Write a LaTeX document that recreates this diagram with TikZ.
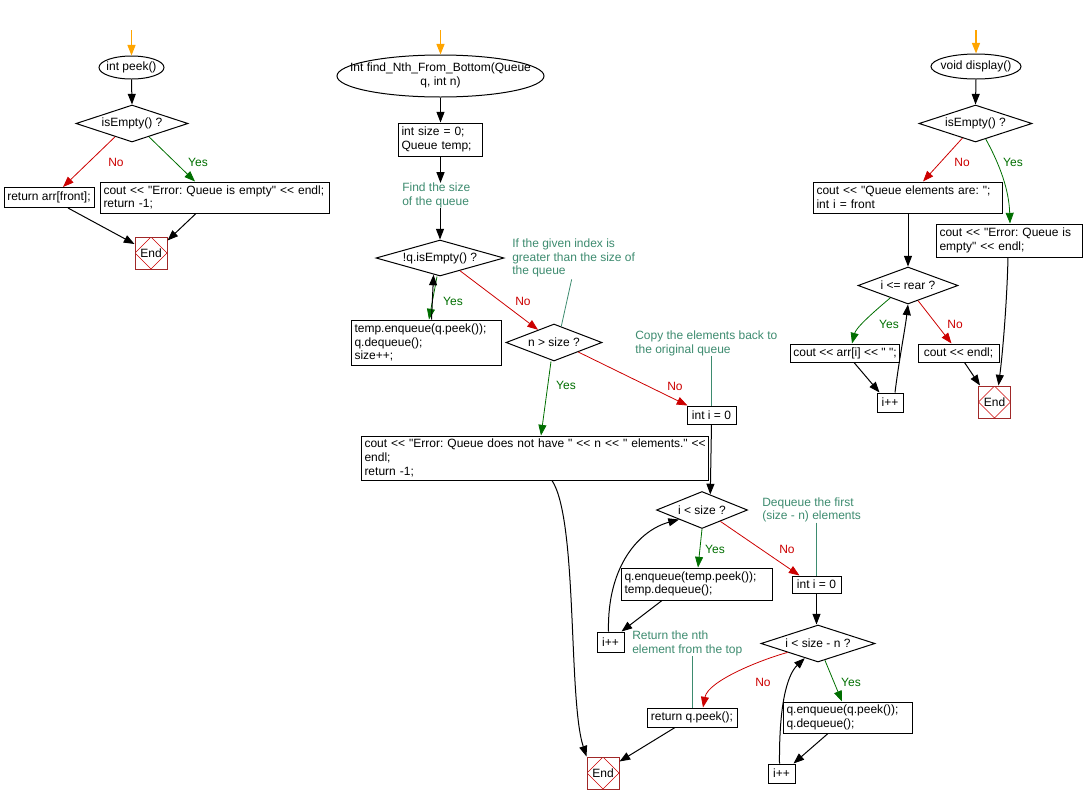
\documentclass[tikz,border=0pt]{standalone}
\usepackage{fontspec}
\setmainfont{Liberation Sans}[Ligatures=TeXOff]
\usetikzlibrary{shapes.geometric,arrows.meta,calc}
\definecolor{cmt}{RGB}{61,139,111}
\definecolor{nored}{RGB}{204,0,0}
\definecolor{yesgreen}{RGB}{0,110,0}
\definecolor{endred}{RGB}{160,40,40}
\definecolor{startor}{RGB}{255,165,0}
\newcommand{\zerow}[1]{\makebox[0pt][c]{#1}}
\frenchspacing
\tikzset{
  every node/.style={font=\fontsize{9}{10.2}\selectfont\frenchspacing},
  wh/.style args={#1/#2}{minimum width=#1*0.75pt, minimum height=#2*0.75pt},
  tw/.code={\pgfmathsetlengthmacro\mytw{(#1-5)*0.75pt}\edef\mynext{\noexpand\tikzset{text width=\mytw}}\mynext},
  sbox/.style={draw, rectangle, line width=0.75pt, inner xsep=2.25pt, inner ysep=0pt, align=center},
  mbox/.style={draw, rectangle, line width=0.75pt, inner xsep=2pt, inner ysep=0pt, align=left},
  startnode/.style={draw, ellipse, line width=0.75pt, inner sep=0pt},
  decision/.style={draw, diamond, line width=0.75pt, inner sep=0pt, aspect=3},
  endnode/.style={draw=endred, rectangle, line width=0.75pt, inner sep=0pt,
    minimum width=24pt, minimum height=24pt,
    path picture={\draw[nored, line width=0.45pt] (path picture bounding box.north) -- (path picture bounding box.east) -- (path picture bounding box.south) -- (path picture bounding box.west) -- cycle;}},
  comment/.style={text=cmt, align=left, inner sep=0pt},
  ylab/.style={text=yesgreen, inner sep=0pt},
  nlab/.style={text=nored, inner sep=0pt},
  tip/.style={-{Triangle[length=8pt,width=6pt]}},
  flow/.style={draw=black, line width=0.75pt, tip},
  yesflow/.style={draw=yesgreen, line width=0.6pt, tip},
  noflow/.style={draw=nored, line width=0.6pt, tip},
  startflow/.style={draw=startor, line width=1.2pt, -{Triangle[length=8pt,width=6pt]}},
  cline/.style={draw=cmt, line width=0.6pt},
}
\begin{document}
\begin{tikzpicture}[x=0.75pt,y=-0.75pt]
\useasboundingbox (0,0) rectangle (1083,804);

% ---------- peek ----------
\coordinate (o1) at (131.5,30);
\node[startnode, wh=65/23] (S1) at (131.5,67.5) {\zerow{int peek()}};
\node[decision, wh=112/37] (D1) at (132,123.5) {\zerow{isEmpty() ?}};
\node[sbox, wh=90/20] (retarr) at (49,197.5) {return arr[front];};
\node[mbox, wh=228/31, tw=228] (err1) at (215,197.5) {\mbox{cout << "Error: Queue is empty" << endl;}\\\mbox{return -1;}};
\node[endnode] (E1) at (151,253) {End};
\node[nlab] (l1) at (116,162) {No};
\node[ylab] (l2) at (198,162) {Yes};

\draw[startflow] (o1) -- (S1.north);
\draw[flow] (S1.south) -- (D1.north);
\draw[noflow] ($(D1.south)!0.3!(D1.west)$) -- ($(retarr.north)+(14,0)$);
\draw[yesflow] ($(D1.south)!0.3!(D1.east)$) -- ($(err1.north)+(-20,0)$);
\draw[flow] ($(retarr.south)+(19,0)$) -- ($(E1.west)+(0,-9)$);
\draw[flow] ($(err1.south)+(-19,0)$) -- ($(E1.north east)+(0,4)$);

% ---------- find_Nth_From_Bottom ----------
\coordinate (o2) at (440.5,30);
\node[startnode, wh=207/42] (S2) at (440.5,76) {\zerow{\begin{tabular}{@{}c@{}}Int find\_Nth\_From\_Bottom(Queue\\q, int n)\end{tabular}}};
\node[mbox, wh=83/33, tw=83] (initsz) at (440.5,139.5) {\mbox{int size = 0;}\\\mbox{Queue temp;}};
\node[comment, anchor=west] (C1) at (402,195.5) {Find the size\\of the queue};
\node[decision, wh=128/36] (D2) at (440,258) {\zerow{!q.isEmpty() ?}};
\node[mbox, wh=149/45, tw=149] (tempenq) at (426.5,342.5) {\mbox{temp.enqueue(q.peek());}\\\mbox{q.dequeue();}\\\mbox{size++;}};
\node[comment, anchor=west] (C2) at (512,258) {If the given index is\\greater than the size of\\the queue};
\node[decision, wh=96/37] (D3) at (554,342.5) {\zerow{n > size ?}};
\node[comment, anchor=west] (C3) at (635,343.5) {Copy the elements back to\\the original queue};
\node[sbox, wh=49/18] (inti1) at (711.5,415) {int i = 0};
\node[mbox, wh=346/44, tw=346] (err2) at (535,458) {\mbox{cout << "Error: Queue does not have " << n << " elements." <<}\\\mbox{endl;}\\\mbox{return -1;}};
\node[decision, wh=91/37] (D4) at (702,510) {\zerow{i < size ?}};
\node[comment, anchor=west] (C4) at (762,510) {Dequeue the first\\(size - n) elements};
\node[mbox, wh=150/32, tw=150] (qenqt) at (697,584) {\mbox{q.enqueue(temp.peek());}\\\mbox{temp.dequeue();}};
\node[sbox, wh=49/17] (inti2) at (816.5,584.5) {int i = 0};
\node[sbox, wh=27/20] (ipp1) at (610.5,642) {i++};
\node[comment, anchor=west] (C5) at (632,643.5) {Return the nth\\element from the top};
\node[decision, wh=114/37] (D5) at (818,643.5) {\zerow{i < size - n ?}};
\node[sbox, wh=90/19] (retpeek) at (692,717.5) {return q.peek();};
\node[mbox, wh=128/31, tw=128] (qenq) at (848,717.5) {\mbox{q.enqueue(q.peek());}\\\mbox{q.dequeue();}};
\node[sbox, wh=27/19] (ipp2) at (781.5,773.5) {i++};
\node[endnode] (E2) at (603,773) {End};

\node[ylab] (l3) at (453,301) {Yes};
\node[nlab] (l4) at (523,301) {No};
\node[ylab] (l5) at (566,385) {Yes};
\node[nlab] (l6) at (675,386) {No};
\node[ylab] (l7) at (715,549) {Yes};
\node[nlab] (l8) at (787,549) {No};
\node[nlab] (l9) at (763,682) {No};
\node[ylab] (l10) at (851,682) {Yes};

\draw[startflow] (o2) -- (S2.north);
\draw[flow] (S2.south) -- (initsz.north);
\draw[flow] (initsz.south) -- (C1.north -| initsz.south);
\draw[flow] (C1.south -| D2.north) -- (D2.north);
\draw[yesflow] ($(D2.south)+(-3,0)$) -- ($(tempenq.north)+(2.5,0)$);
\draw[flow] ($(tempenq.north)+(5,0)$) -- ($(D2.south)!0.1!(D2.west)$);
\draw[noflow] ($(D2.south)!0.31!(D2.east)$) -- ($(D3.west)!0.67!(D3.north)$);
\draw[cline] ($(C2.south)+(-2,2)$) -- ($(D3.north)!0.15!(D3.east)$);
\draw[yesflow] ($(D3.south)+(-3,0)$) -- ($(err2.north)+(6,0)$);
\draw[noflow] ($(D3.south)!0.5!(D3.east)$) -- ($(inti1.north west)+(1,0)$);
\draw[cline] (C3.south -| inti1.north) -- (inti1.north);
\draw[flow] (inti1.south) -- ($(D4.north)!0.18!(D4.east)$);
\draw[yesflow] (D4.south) -- ($(qenqt.north)+(1,0)$);
\draw[noflow] ($(D4.south)!0.4!(D4.east)$) -- ($(inti2.north west)+(8,0)$);
\draw[cline] (C4.south -| inti2.north) -- (inti2.north);
\draw[flow] ($(qenqt.south)+(-35,0)$) -- ($(ipp1.north east)+(-3,0)$);
\draw[flow] ($(ipp1.north)+(-2,0)$) .. controls (607,565) and (640,530) .. (D4.south west);
\draw[cline] (C5.south -| retpeek.north) -- (retpeek.north);
\draw[flow] (inti2.south) -- (inti2.south |- D5.north);
\draw[noflow] ($(D5.west)!0.47!(D5.south)$) .. controls (760,660) and (708,681) .. ($(retpeek.north)+(11,0)$);
\draw[yesflow] ($(D5.south)!0.12!(D5.east)$) -- ($(qenq.north)+(-6,0)$);
\draw[flow] ($(qenq.south)+(-20,0)$) -- ($(ipp2.north east)+(-2,0)$);
\draw[flow] ($(ipp2.north)+(-2,0)$) .. controls (779,705) and (787,675) .. ($(D5.west)!0.77!(D5.south)$);
\draw[flow] ($(retpeek.south)+(-17,0)$) -- ($(E2.north east)+(0,5)$);
\draw[flow] ($(err2.south)+(17,0)$) .. controls (578,520) and (568,700) .. (E2.north west);

% ---------- display ----------
\coordinate (o3) at (976,30);
\node[startnode, wh=90/25] (S3) at (976,66.5) {\zerow{void display()}};
\node[decision, wh=113/37] (D6) at (975.5,123.5) {\zerow{isEmpty() ?}};
\node[mbox, wh=188/31, tw=188] (qel) at (908,197.5) {\mbox{cout << "Queue elements are: ";}\\\mbox{int i = front}};
\node[mbox, wh=145/33, tw=145] (err3) at (1009.5,240.5) {\mbox{cout << "Error: Queue is}\\\mbox{empty" << endl;}};
\node[decision, wh=100/37] (D7) at (908,285.5) {\zerow{i <= rear ?}};
\node[sbox, wh=108/18] (coutarr) at (845,353) {cout << arr[i] << " ";};
\node[sbox, wh=81/18] (coutendl) at (958.5,353) {cout << endl;};
\node[sbox, wh=26/19] (ipp3) at (890,402.5) {i++};
\node[endnode] (E3) at (994.5,402) {End};

\node[nlab] (l11) at (962,162) {No};
\node[ylab] (l12) at (1013,162) {Yes};
\node[ylab] (l13) at (889,324) {Yes};
\node[nlab] (l14) at (955,324) {No};

\draw[startflow] (o3) -- (S3.north);
\draw[flow] (S3.south) -- (D6.north);
\draw[noflow] ($(D6.west)!0.77!(D6.south)$) -- ($(qel.north)+(15,0)$);
\draw[yesflow] ($(D6.south)!0.18!(D6.east)$) .. controls (1000,165) and (1009,190) .. ($(err3.north)+(0.5,0)$);
\draw[flow] (qel.south) -- (D7.north);
\draw[yesflow] ($(D7.west)!0.65!(D7.south)$) .. controls (870,315) and (856,328) .. ($(coutarr.north)+(7,0)$);
\draw[noflow] ($(D7.south)!0.2!(D7.east)$) -- ($(coutendl.north)+(-7,0)$);
\draw[flow] ($(coutarr.south)+(9,0)$) -- ($(ipp3.north west)+(3,0)$);
\draw[flow] ($(ipp3.north)+(5,0)$) .. controls (899,360) and (905,330) .. (D7.south);
\draw[flow] ($(coutendl.south)+(6,0)$) -- ($(E3.north west)+(2,0)$);
\draw[flow] ($(err3.south)+(-1.5,0)$) .. controls (1007,300) and (1003,350) .. ($(E3.north)+(4,0)$);
\end{tikzpicture}
\end{document}
